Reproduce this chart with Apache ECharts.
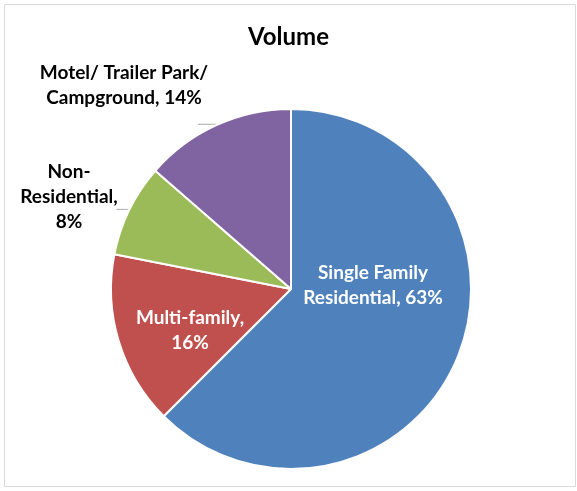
<!DOCTYPE html>
<html>
<head>
<meta charset="utf-8">
<script src="https://cdn.jsdelivr.net/npm/echarts@6/dist/echarts.min.js"></script>
<style>
  html, body { margin: 0; padding: 0; background: #fff; }
  #chart { width: 577px; height: 491px; }
</style>
</head>
<body>
<div id="chart"></div>
<script>
// Share of volume by property type (percent)
const categories = [
  'Single Family Residential',
  'Multi-family',
  'Non-Residential',
  'Motel/ Trailer Park/ Campground'
];
const volumeShare = [62.5, 15.6, 8.3, 13.6];
const sliceColors = ['#4F81BD', '#C0504D', '#9BBB59', '#8064A2'];

// Line-wrapped label text for each slice
const labelLines = [
  ['Single Family', 'Residential, {v}%'],
  ['Multi-family,', '{v}%'],
  ['Non-', 'Residential,', '{v}%'],
  ['Motel/ Trailer Park/', 'Campground, {v}%']
];
// Which labels sit inside their slice
const insideLabel = [true, true, false, false];
// Centre of each label's text block
const labelPos = [[373, 285], [190, 330], [69, 197], [124, 85]];
// Leader length (radial, horizontal) for the outside labels
const leaderLen = [null, null, [1, 12], [1, 18]];

const FONT = 'Lato, "Open Sans", sans-serif';

const data = categories.map((name, i) => ({
  name: name,
  value: volumeShare[i],
  itemStyle: { color: sliceColors[i] },
  label: insideLabel[i]
    ? { position: 'inside', color: '#ffffff' }
    : { position: 'outside', color: '#000000' },
  labelLine: insideLabel[i]
    ? { show: false }
    : { show: true, length: leaderLen[i][0], length2: leaderLen[i][1] }
}));

const chart = echarts.init(document.getElementById('chart'), null, { renderer: 'canvas' });

chart.setOption({
  animation: false,
  backgroundColor: '#ffffff',
  title: {
    text: 'Volume',
    left: 'center',
    top: 20,
    textStyle: { fontFamily: FONT, fontWeight: 'bold', fontSize: 24, color: '#000' }
  },
  graphic: [{
    type: 'rect',
    silent: true,
    shape: { x: 4.5, y: 4.5, width: 571, height: 482 },
    style: { fill: null, stroke: '#d9d9d9', lineWidth: 1 }
  }],
  series: [{
    type: 'pie',
    center: [291, 289],
    radius: [0, 180],
    startAngle: 90,
    clockwise: true,
    avoidLabelOverlap: false,
    emphasis: { disabled: true },
    itemStyle: { borderColor: '#ffffff', borderWidth: 2 },
    label: {
      fontFamily: FONT,
      fontWeight: 'bold',
      fontSize: 19,
      lineHeight: 25,
      align: 'center',
      formatter: function (p) {
        return labelLines[p.dataIndex]
          .map(s => s.replace('{v}', Math.round(p.value)))
          .join('\n');
      }
    },
    labelLine: {
      smooth: 0.3,
      lineStyle: { color: '#a6a6a6', width: 1 }
    },
    labelLayout: function (params) {
      const pos = labelPos[params.dataIndex];
      const out = {
        x: pos[0],
        y: pos[1],
        align: 'center',
        verticalAlign: 'middle'
      };
      // keep the short leader the pie layout drew at the slice edge
      if (params.labelLinePoints) {
        out.labelLinePoints = params.labelLinePoints;
      }
      return out;
    },
    data: data
  }]
});
</script>
</body>
</html>
